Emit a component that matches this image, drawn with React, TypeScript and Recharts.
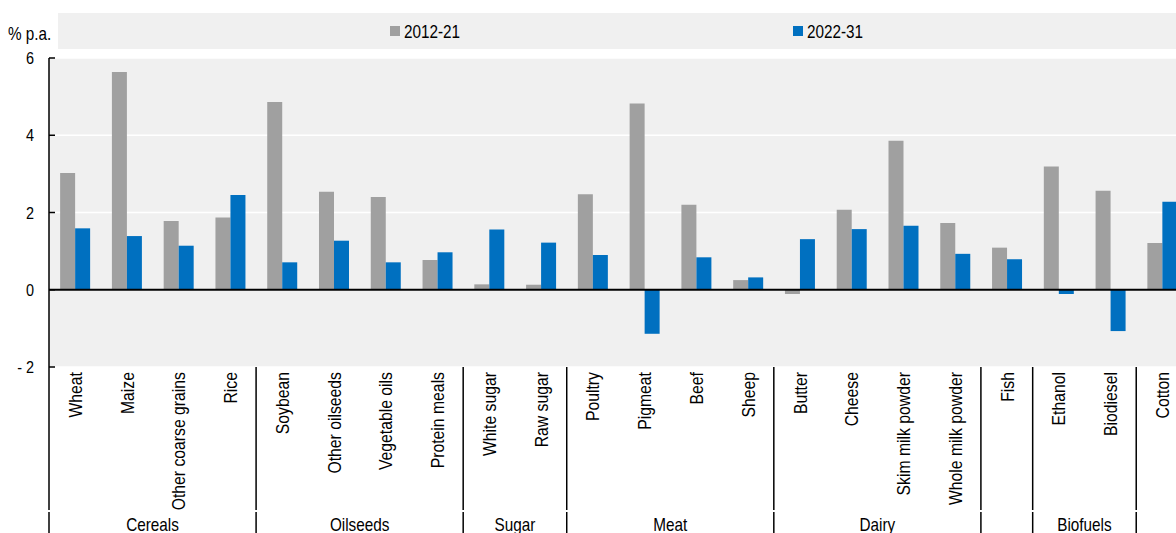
import React from 'react';
import { BarChart, Bar, XAxis, YAxis, CartesianGrid, ReferenceLine, Legend } from 'recharts';

const categories = [
  'Wheat', 'Maize', 'Other coarse grains', 'Rice',
  'Soybean', 'Other oilseeds', 'Vegetable oils', 'Protein meals',
  'White sugar', 'Raw sugar',
  'Poultry', 'Pigmeat', 'Beef', 'Sheep',
  'Butter', 'Cheese', 'Skim milk powder', 'Whole milk powder',
  'Fish',
  'Ethanol', 'Biodiesel',
  'Cotton',
];
const series2012 = [3.02, 5.64, 1.78, 1.87, 4.86, 2.54, 2.40, 0.77, 0.14, 0.13, 2.47, 4.82, 2.20, 0.25, -0.11, 2.07, 3.86, 1.73, 1.09, 3.19, 2.56, 1.21];
const series2022 = [1.59, 1.39, 1.14, 2.45, 0.71, 1.27, 0.71, 0.97, 1.56, 1.22, 0.90, -1.14, 0.84, 0.32, 1.31, 1.57, 1.66, 0.93, 0.79, -0.11, -1.07, 2.28];
const seriesNames = ['2012-21', '2022-31'];
const groupNames = ['Cereals', 'Oilseeds', 'Sugar', 'Meat', 'Dairy', '', 'Biofuels', ''];
const groupSizes = [4, 4, 2, 4, 4, 1, 2, 1];
const yTicks = [-2, 0, 2, 4, 6];
const unitLabel = '% p.a.';

const data = categories.map((name, i) => ({ name, a: series2012[i], b: series2022[i] }));

const groupStarts: number[] = [];
{
  let acc = 0;
  for (const s of groupSizes) { groupStarts.push(acc); acc += s; }
}

const VIEW_W = 1176;
const W = 1188;
const H = 533;
const TOP = 58;
const AXIS_W = 49;
const XAXIS_H = 166;
const PLOT_BOTTOM = H - XAXIS_H;
const BAND = (W - AXIS_W) / categories.length;
const FONT = '"Liberation Sans", Arial, Helvetica, sans-serif';
const SX = 0.85;
const GRAY = '#a0a0a0';
const BLUE = '#0070c0';
const BG = '#f0f0f0';
const LEG_LEFT = 58;
const LEG_TOP = 13;
const LEG_H = 36;
const LEG_X = [332, 735];

const fmt = (v: number) => (v < 0 ? `- ${Math.abs(v)}` : `${v}`);

function CatTick(props: any) {
  const { x, payload } = props;
  const i = categories.indexOf(payload.value);
  const g = groupStarts.indexOf(i);
  const left = x - BAND / 2;
  return (
    <g>
      <text
        transform={`translate(${x},${PLOT_BOTTOM + 5}) rotate(-90) scale(0.83,1)`}
        textAnchor="end"
        dy="0.36em"
        fontSize={19}
        fontFamily={FONT}
        fill="#000"
      >
        {payload.value}
      </text>
      {g >= 0 && (
        <g>
          <line x1={left} x2={left} y1={PLOT_BOTTOM} y2={510} stroke="#000" strokeWidth={1.5} />
          <line x1={left} x2={left} y1={512} y2={H} stroke="#000" strokeWidth={1.5} />
          {groupNames[g] ? (
            <text
              transform={`translate(${left + (groupSizes[g] * BAND) / 2},531) scale(${SX},1)`}
              textAnchor="middle"
              fontSize={18}
              fontFamily={FONT}
              fill="#000"
            >
              {groupNames[g]}
            </text>
          ) : null}
        </g>
      )}
    </g>
  );
}

function YTick(props: any) {
  const { y, payload } = props;
  return (
    <g>
      <line x1={AXIS_W} x2={AXIS_W + 6} y1={y} y2={y} stroke="#000" strokeWidth={1.5} />
      <text
        transform={`translate(34,${y}) scale(${SX},1)`}
        textAnchor="end"
        dy="0.36em"
        fontSize={17}
        fontFamily={FONT}
        fill="#000"
      >
        {fmt(payload.value)}
      </text>
    </g>
  );
}

function UnitLabel() {
  return (
    <text
      transform={`translate(8,40) scale(${SX},1)`}
      fontSize={18}
      fontFamily={FONT}
      fill="#000"
    >
      {unitLabel}
    </text>
  );
}

const renderLegend = (props: any) => {
  const items = props.payload || [];
  const w = W - LEG_LEFT;
  return (
    <svg width={w} height={LEG_H} style={{ display: 'block' }}>
      <rect x={0} y={0} width={w} height={LEG_H} fill={BG} />
      {items.map((it: any, i: number) => (
        <g key={i}>
          <rect x={LEG_X[i]} y={13} width={10} height={10} fill={it.color} />
          <text
            transform={`translate(${LEG_X[i] + 14},24.5) scale(${SX},1)`}
            fontSize={18}
            fontFamily={FONT}
            fill="#000"
          >
            {it.value}
          </text>
        </g>
      ))}
    </svg>
  );
};

export default function App() {
  return (
    <div style={{ position: 'absolute', left: 0, top: 0, width: VIEW_W, height: H, overflow: 'hidden', background: '#fff' }}>
      <BarChart
        width={W}
        height={H}
        data={data}
        margin={{ top: TOP, right: 0, bottom: 0, left: 0 }}
        barCategoryGap="21.5%"
        barGap={0}
      >
        <CartesianGrid vertical={false} stroke="#fff" strokeWidth={1.5} fill={BG} />
        <XAxis
          dataKey="name"
          height={XAXIS_H}
          interval={0}
          tickLine={false}
          axisLine={false}
          tick={<CatTick />}
        />
        <YAxis
          width={AXIS_W}
          domain={[-2, 6]}
          ticks={yTicks}
          interval={0}
          tickLine={false}
          axisLine={{ stroke: '#000', strokeWidth: 1.5 }}
          tick={<YTick />}
          label={<UnitLabel />}
        />
        <Legend
          content={renderLegend}
          layout="horizontal"
          verticalAlign="middle"
          align="center"
          wrapperStyle={{ position: 'absolute', top: LEG_TOP, left: LEG_LEFT, width: W - LEG_LEFT, height: LEG_H, margin: 0, padding: 0 }}
        />
        <Bar dataKey="a" name={seriesNames[0]} fill={GRAY} isAnimationActive={false} />
        <Bar dataKey="b" name={seriesNames[1]} fill={BLUE} isAnimationActive={false} />
        <ReferenceLine y={0} stroke="#000" strokeWidth={2} />
      </BarChart>
    </div>
  );
}
